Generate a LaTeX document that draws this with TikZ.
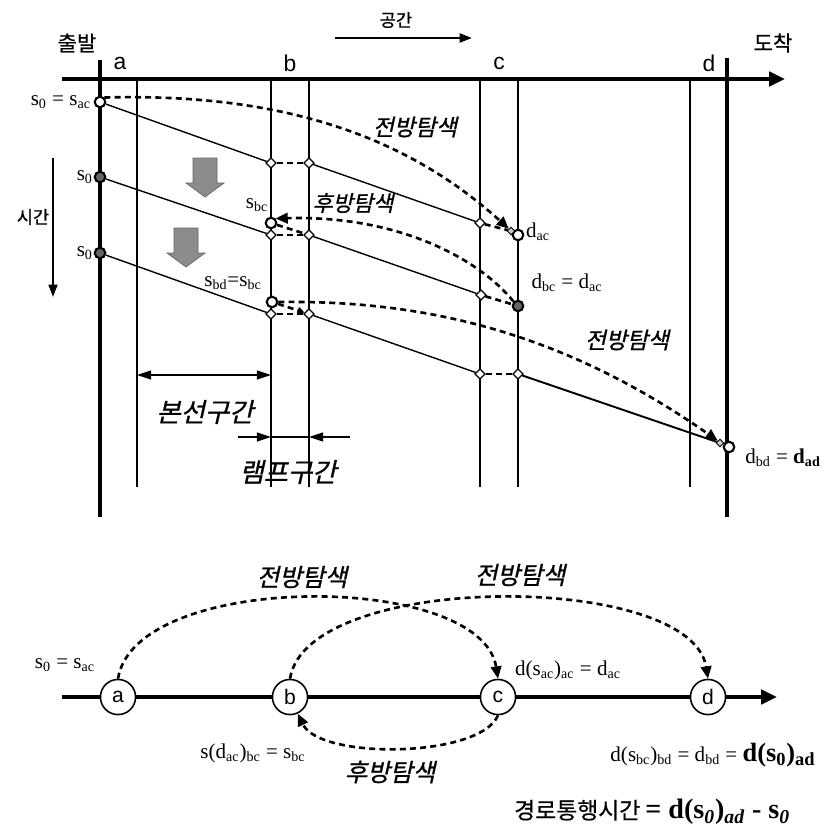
\documentclass[tikz,border=0pt]{standalone}
\usepackage{fontspec}
\setmainfont{Liberation Serif}
\setsansfont{Liberation Sans}
\newfontfamily\kr[FakeBold=0.6]{Noto Sans CJK KR}
\newfontfamily\krit[FakeSlant=0.22,FakeBold=0.8]{Noto Sans CJK KR}
\usetikzlibrary{arrows.meta,shapes.geometric}
\def\subt#1{\textsubscript{#1}}
\def\dropshade(#1,#2){\draw[shift={(#1,#2)}, fill=black!45, draw=black!60, line width=0.4pt] (-12,0) -- (12,0) -- (12,25) -- (19,25) -- (0,39) -- (-19,25) -- (-12,25) -- cycle;}
\tikzset{
	wall/.style={line width=2.2pt},
	lane/.style={line width=0.8pt},
	trip/.style={line width=0.8pt},
	link/.style={line width=1.5pt, dash pattern=on 3.4pt off 2.4pt},
	search/.style={link, -{Triangle[length=7pt,width=6pt]}},
	hop/.style={diamond, draw, fill=white, line width=0.7pt, inner sep=0pt, minimum size=6pt},
	stop/.style={circle, draw, fill=white, line width=1.2pt, inner sep=0pt, minimum size=6pt},
	tipmark/.style={diamond, draw, fill=gray!40, line width=0.5pt, inner sep=0pt, minimum size=4.5pt},
	dim/.style={line width=0.9pt},
	krlab/.style={font=\krit\fontsize{13}{15}\selectfont},
	krtext/.style={font=\kr\fontsize{12}{14}\selectfont},
	mlab/.style={font=\fontsize{12}{14}\selectfont, inner sep=1pt},
	sflab/.style={font=\sffamily\fontsize{13}{15}\selectfont},
	town/.style={circle, draw, fill=white, line width=0.9pt, minimum size=20pt, inner sep=0pt, font=\sffamily\fontsize{12}{14}\selectfont},
}
\begin{document}
\begin{tikzpicture}[x=0.02cm, y=-0.02cm]
		%%%%% START %%%%%
		\useasboundingbox (0,0) rectangle (830,828);
		
		% space and time axes
		\coordinate (axL) at (62,79);
		\coordinate (axR) at (785,79);
		\draw[line width=2.8pt, -{Triangle[length=9pt,width=8pt]}] (axL) -- (axR);
		\coordinate (spL) at (335,38);
		\coordinate (spR) at (472,38);
		\draw[line width=1.4pt, -{Triangle[length=7pt,width=5pt]}] (spL) -- (spR);
		\coordinate (tmT) at (53,158);
		\coordinate (tmB) at (53,297);
		\draw[line width=1.2pt, -{Triangle[length=7pt,width=5pt]}] (tmT) -- (tmB);
		
		\node[krtext] (start) at (77,43) {출발};
		\node[krtext] (goal) at (773,43) {도착};
		\node[krtext, font=\kr\fontsize{10}{12}\selectfont] (space) at (396,20) {공간};
		\node[krtext, font=\kr\fontsize{10}{12}\selectfont] (time) at (33,217) {시간};
		
		\node[sflab] (ta) at (120,63) {a};
		\node[sflab] (tb) at (290,63) {b};
		\node[sflab] (tc) at (499,63) {c};
		\node[sflab] (td) at (709,63) {d};
		
		% section lines
		\draw[wall] (100,60) -- (100,517);
		\draw[wall] (727,58) -- (727,517);
		\draw[lane] (137,79) -- (137,487);
		\draw[lane] (271,79) -- (271,487);
		\draw[lane] (309,79) -- (309,487);
		\draw[lane] (480,79) -- (480,487);
		\draw[lane] (518,79) -- (518,487);
		\draw[lane] (690,79) -- (690,487);
		
		\dropshade(205,158)
		\dropshade(186,228)
		
		% departures and exits
		\node[stop] (s1) at (100,102) {};
		\node[stop, fill=black!60] (s2) at (100,177) {};
		\node[stop, fill=black!60] (s3) at (100,253) {};
		\node[hop] (p1b) at (271,163) {};
		\node[hop] (p1bb) at (309,163) {};
		\node[hop] (p1c) at (480,223) {};
		\node[hop] (p2b) at (271,235) {};
		\node[hop] (p2bb) at (309,235) {};
		\node[hop] (p2c) at (481,295) {};
		\node[hop] (p3b) at (271,314) {};
		\node[hop] (p3bb) at (309,314) {};
		\node[hop] (p3c) at (480,374) {};
		\node[hop] (p3cc) at (518,374) {};
		\node[stop] (sbc) at (271,223) {};
		\node[stop] (sbd) at (272,302) {};
		\node[stop] (dac) at (518,235) {};
		\node[stop, fill=black!60] (dbc) at (518,306) {};
		\node[stop] (dbd) at (729,447) {};
		\node[tipmark] (tac) at (511,231) {};
		\node[tipmark] (tbd) at (720,443) {};
		
		\draw[trip] (s1) -- (p1b);
		\draw[link] (p1b) -- (p1bb);
		\draw[trip] (p1bb) -- (p1c);
		\draw[link] (p1c) -- (tac);
		\draw[trip] (s2) -- (p2b);
		\draw[link] (p2b) -- (p2bb);
		\draw[trip] (p2bb) -- (p2c);
		\draw[link] (p2c) -- (dbc);
		\draw[trip] (s3) -- (p3b);
		\draw[link] (p3b) -- (p3bb);
		\draw[trip] (p3bb) -- (p3c);
		\draw[link] (p3c) -- (p3cc);
		\draw[line width=1.1pt] (p3cc) -- (tbd);
		\draw[link] (sbc) -- (p2bb);
		\draw[link, -{Triangle[length=4pt,width=4pt]}] (sbd) -- (p3bb);
		
		% searches
		\draw[search] (s1.north east) .. controls (270,93) and (400,130) .. (tac.north west);
		\draw[search] (dbc.north west) .. controls (480,260) and (400,215) .. (sbc.north east);
		\draw[search] (sbd.east) .. controls (420,300) and (560,330) .. (tbd.north west);
		\node[krlab] (fw1) at (415,127) {전방탐색};
		\node[krlab, font=\krit\fontsize{12.5}{14}\selectfont] (bw1) at (353,203) {후방탐색};
		\node[krlab] (fw2) at (627,340) {전방탐색};
		
		\node[mlab, anchor=east] (ls1) at (93,102) {s\subt{0} = s\subt{ac}};
		\node[mlab, anchor=east] (ls2) at (95,177) {s\subt{0}};
		\node[mlab, anchor=east] (ls3) at (95,253) {s\subt{0}};
		\node[mlab] (lsbc) at (257,205) {s\subt{bc}};
		\node[mlab] (lsbd) at (233,283) {s\subt{bd}=s\subt{bc}};
		\node[mlab, anchor=west] (ldac) at (524,232) {d\subt{ac}};
		\node[mlab] (ldbc) at (567,283) {d\subt{bc} = d\subt{ac}};
		\node[mlab] (ldbd) at (783,458) {d\subt{bd} = \textbf{d\subt{ad}}};
		
		% section widths
		\coordinate (m1) at (137,375);
		\coordinate (m2) at (271,375);
		\draw[dim, {Triangle[length=8pt,width=5pt]}-{Triangle[length=8pt,width=5pt]}] (m1) -- (m2);
		\node[krlab, font=\krit\fontsize{15}{17}\selectfont] (mainsec) at (205,412) {본선구간};
		\coordinate (r0) at (238,437);
		\coordinate (r1) at (271,437);
		\coordinate (r2) at (309,437);
		\coordinate (r3) at (350,437);
		\draw[dim] (r1) -- (r2);
		\draw[dim, -{Triangle[length=8pt,width=5pt]}] (r0) -- (r1);
		\draw[dim, -{Triangle[length=8pt,width=5pt]}] (r3) -- (r2);
		\node[krlab, font=\krit\fontsize{15}{17}\selectfont] (rampsec) at (288,472) {램프구간};
		
		% link chain below
		\coordinate (bL) at (62,697);
		\coordinate (bR) at (777,697);
		\node[town] (na) at (118,697) {a};
		\node[town] (nb) at (290,697) {b};
		\node[town] (nc) at (498,697) {c};
		\node[town] (nd) at (708,697) {d};
		\draw[line width=2.8pt, -{Triangle[length=9pt,width=8pt]}] (bL) -- (na) -- (nb) -- (nc) -- (nd) -- (bR);
		
		\draw[search] (na.north) .. controls (135,571) and (481,571) .. (nc.north);
		\draw[search] (nb.north) .. controls (307,571) and (691,571) .. (nd.north);
		\draw[search] (nc.south) .. controls (480,758) and (320,760) .. (nb.-65);
		\node[krlab, font=\krit\fontsize{14}{16}\selectfont] (fw3) at (302,577) {전방탐색};
		\node[krlab, font=\krit\fontsize{14}{16}\selectfont] (fw4) at (520,575) {전방탐색};
		\node[krlab, font=\krit\fontsize{14}{16}\selectfont] (bw2) at (390,772) {후방탐색};
		
		\node[mlab] (la) at (65,665) {s\subt{0} = s\subt{ac}};
		\node[mlab] (lc) at (568,670) {d(s\subt{ac})\subt{ac} = d\subt{ac}};
		\node[mlab] (lb) at (253,753) {s(d\subt{ac})\subt{bc} = s\subt{bc}};
		\node[mlab] (ld) at (713,755) {d(s\subt{bc})\subt{bd} = d\subt{bd} = {\bfseries\fontsize{15}{17}\selectfont d(s\subt{0})\subt{ad}}};
		\node[krtext, anchor=west, font=\kr\fontsize{13}{15}\selectfont] (total) at (508,812) {경로통행시간 {\rmfamily\bfseries\fontsize{16}{18}\selectfont = d(s\subt{\itshape 0})\subt{\itshape ad} - s\subt{\itshape 0}}};
		
		%%%%% END %%%%%
	\end{tikzpicture}
\end{document}
